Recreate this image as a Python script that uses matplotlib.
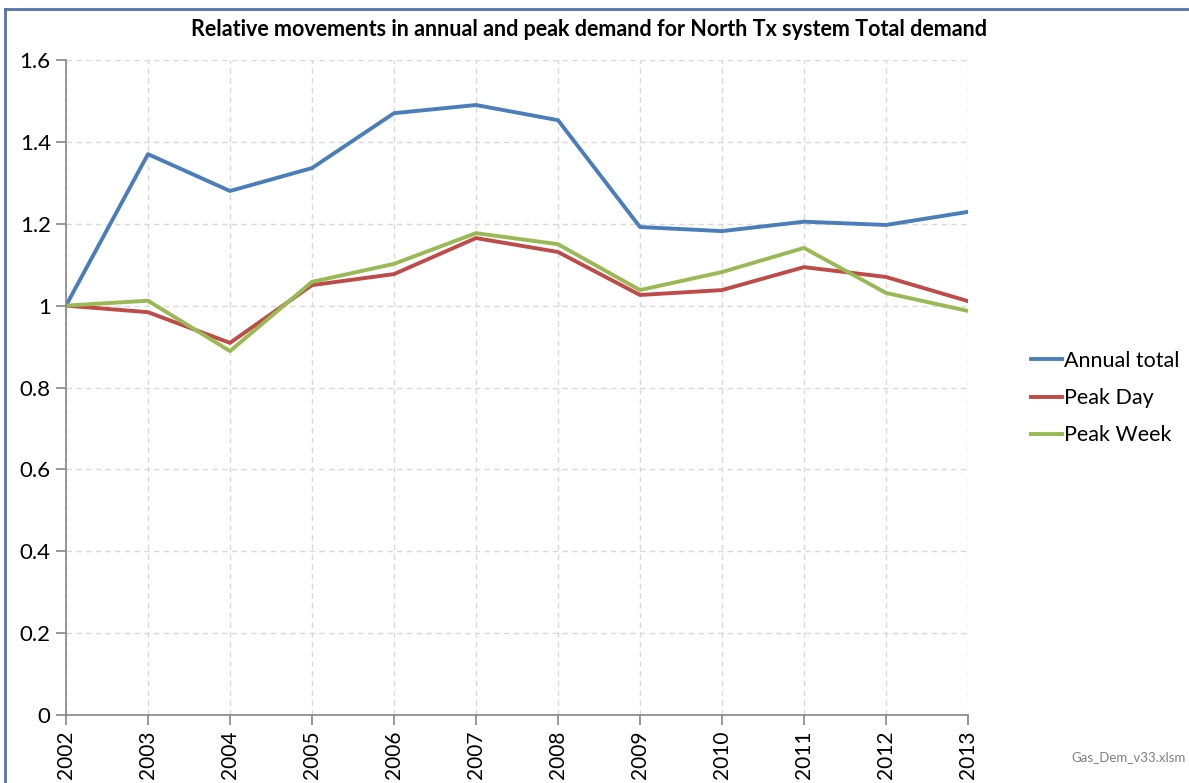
import matplotlib
matplotlib.use("Agg")
import matplotlib.pyplot as plt
from matplotlib.lines import Line2D

plt.rcParams['font.family'] = ['Lato', 'DejaVu Sans']

years = ['2002', '2003', '2004', '2005', '2006', '2007', '2008', '2009', '2010', '2011', '2012', '2013']
annual_total = [1.000, 1.370, 1.280, 1.336, 1.470, 1.490, 1.453, 1.192, 1.182, 1.205, 1.197, 1.229]
peak_day = [1.000, 0.984, 0.909, 1.050, 1.077, 1.165, 1.131, 1.026, 1.038, 1.094, 1.070, 1.011]
peak_week = [1.000, 1.012, 0.889, 1.058, 1.102, 1.177, 1.150, 1.038, 1.082, 1.141, 1.031, 0.987]
yticks = [0, 0.2, 0.4, 0.6, 0.8, 1, 1.2, 1.4, 1.6]
ytick_labels = ['0', '0.2', '0.4', '0.6', '0.8', '1', '1.2', '1.4', '1.6']

fig = plt.figure(figsize=(11.89, 7.83), dpi=100)
ax = fig.add_axes([0.0555, 0.0868, 0.7586, 0.8366])

x = list(range(len(years)))
ax.plot(x, annual_total, color='#4A7EBB', lw=2.8, label='Annual total')
ax.plot(x, peak_day, color='#BE4B48', lw=2.8, label='Peak Day')
ax.plot(x, peak_week, color='#98B954', lw=2.8, label='Peak Week')

ax.set_xlim(0, len(years) - 1)
ax.set_ylim(0, 1.6)
ax.set_xticks(x)
ax.set_xticklabels(years, rotation=90, fontsize=15)
ax.set_yticks(yticks)
ax.set_yticklabels(ytick_labels, fontsize=16)
ax.grid(True, color='#D9D9D9', linestyle=(0, (4, 3)), lw=1)
ax.set_axisbelow(True)
for s in ['top', 'right']:
    ax.spines[s].set_visible(False)
for s in ['left', 'bottom']:
    ax.spines[s].set_color('#868686')
    ax.spines[s].set_linewidth(1.2)
ax.tick_params(axis='both', colors='#868686', length=7, width=1.2, labelcolor='#000000', pad=4)

fig.text(0.495, 0.962, 'Relative movements in annual and peak demand for North Tx system Total demand',
         fontsize=15.5, fontweight='bold', ha='center', va='center')

leg = fig.legend(loc='center left', bbox_to_anchor=(0.8675, 0.4914), frameon=False, fontsize=15.5,
                 handlelength=1.4, handletextpad=0.1, labelspacing=0.8, borderaxespad=0, borderpad=0)

fig.text(0.997, 0.033, 'Gas_Dem_v33.xlsm', fontsize=9.5, color='#808080', ha='right', va='center')

fig.add_artist(Line2D([0.0042, 0.0042], [0.0, 0.9885], transform=fig.transFigure,
                      color='#4F74A8', lw=2))
fig.add_artist(Line2D([0.0042, 1.0], [0.9885, 0.9885], transform=fig.transFigure,
                      color='#4F74A8', lw=2))

fig.savefig('out.png', dpi=100)
